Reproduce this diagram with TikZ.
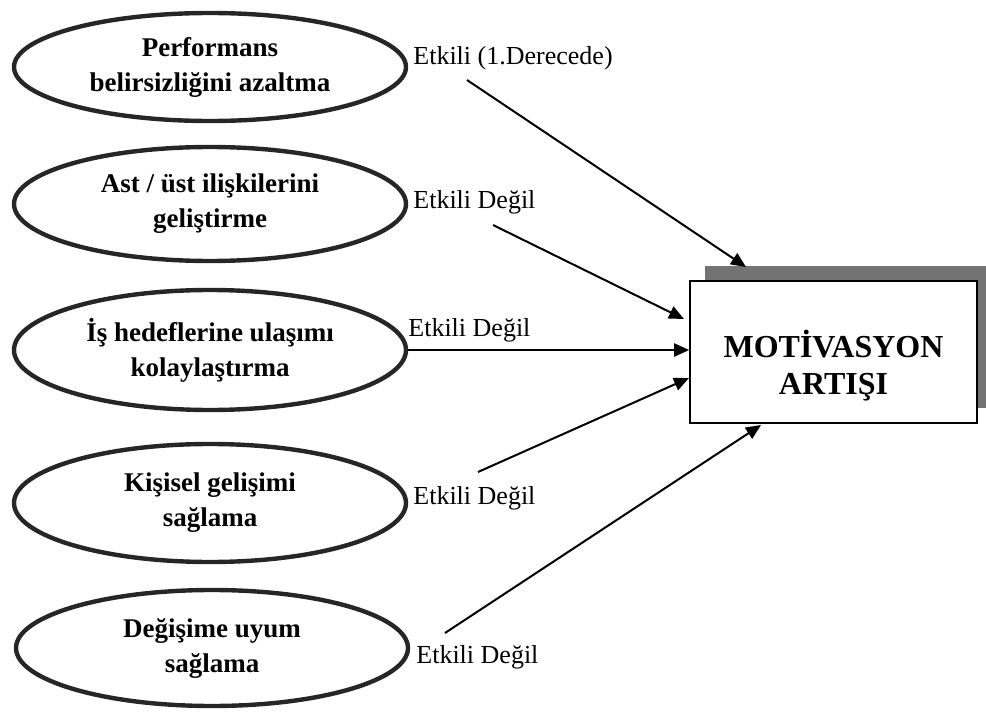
\documentclass[tikz,border=0pt]{standalone}
\usepackage{fontspec}
\setmainfont{Liberation Serif}
\usetikzlibrary{arrows.meta,shapes.geometric,shadows}

\tikzset{
  factor/.style={ellipse, draw=black!85, line width=2.2pt, inner sep=0pt,
    minimum width=196pt, align=center,
    font=\fontsize{13.5}{17.5}\selectfont\bfseries},
  effect/.style={anchor=west, inner sep=0pt, font=\fontsize{13}{15}\selectfont},
  target/.style={draw, line width=0.8pt, fill=white, minimum width=143.5pt,
    minimum height=71pt,
    drop shadow={shadow xshift=7.5pt, shadow yshift=7.5pt, fill=black!55, opacity=1}},
  title/.style={align=center, inner sep=0pt,
    font=\fontsize{16}{18.5}\selectfont\bfseries},
  link/.style={line width=1pt, -{Triangle[length=7.5pt, width=6.5pt]}},
}

\begin{document}
\begin{tikzpicture}[x=0.5pt, y=-0.5pt]
  \useasboundingbox (0,0) rectangle (986,717);

  % factors
  \node[factor, minimum height=54pt] (e1) at (210,67)
    {Performans\\belirsizliğini azaltma};
  \node[factor, minimum height=57pt] (e2) at (210,204)
    {Ast / üst ilişkilerini\\geliştirme};
  \node[factor, minimum height=60pt] (e3) at (210,350)
    {İş hedeflerine ulaşımı\\kolaylaştırma};
  \node[factor, minimum height=59pt] (e4) at (210,503)
    {Kişisel gelişimi\\sağlama};
  \node[factor, minimum height=58pt] (e5) at (212,648)
    {Değişime uyum\\sağlama};

  % outcome box and its title
  \node[target] (box) at (833.5,352) {};
  \node[title] (boxtitle) at (833.5,366) {MOTİVASYON\\ARTIŞI};

  % effect labels
  \node[effect] (l1) at (413,58) {Etkili (1.Derecede)};
  \node[effect] (l2) at (413,202) {Etkili Değil};
  \node[effect] (l3) at (408,330) {Etkili Değil};
  \node[effect] (l4) at (413,498) {Etkili Değil};
  \node[effect] (l5) at (416,657) {Etkili Değil};

  % arrow ends
  \coordinate (s1) at (467,80);
  \coordinate (t1) at (746,267);
  \coordinate (s2) at (493,225);
  \coordinate (t2) at (684,319);
  \coordinate (s4) at (478,472);
  \coordinate (t4) at (689,378);
  \coordinate (s5) at (445,633);
  \coordinate (t5) at (761,425);

  \draw[link] (s1) -- (t1);
  \draw[link] (s2) -- (t2);
  \draw[link] (e3.east) -- (e3.east -| box.west);
  \draw[link] (s4) -- (t4);
  \draw[link] (s5) -- (t5);
\end{tikzpicture}
\end{document}
